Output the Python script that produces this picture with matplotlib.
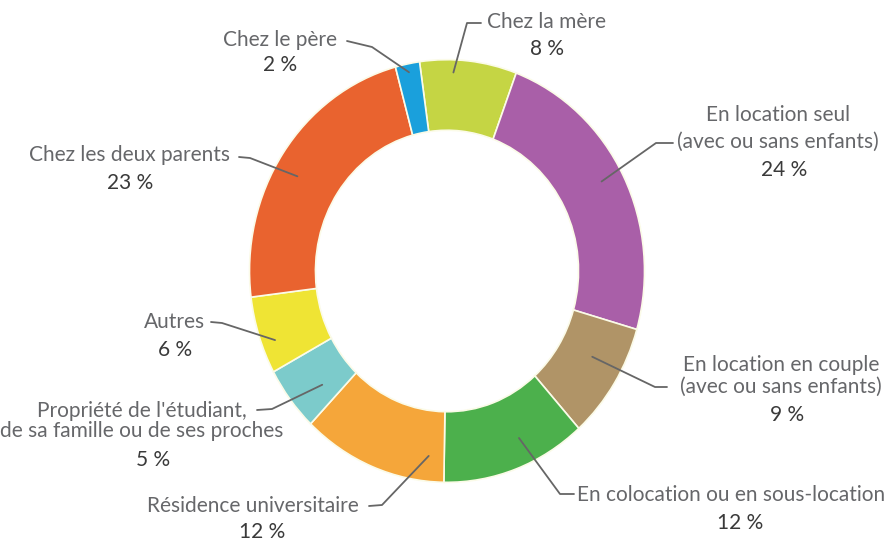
import numpy as np
import matplotlib
matplotlib.use("Agg")
import matplotlib.pyplot as plt

# ---- data (clockwise from top) ----
categories = [
    "Chez la mère",
    "En location seul\n(avec ou sans enfants)",
    "En location en couple\n(avec ou sans enfants)",
    "En colocation ou en sous-location",
    "Résidence universitaire",
    "Propriété de l'étudiant,\nde sa famille ou de ses proches",
    "Autres",
    "Chez les deux parents",
    "Chez le père",
]
values = [8, 24, 9, 12, 12, 5, 6, 23, 2]
pct_labels = ["8 %", "24 %", "9 %", "12 %", "12 %", "5 %", "6 %", "23 %", "2 %"]
colors = ["#c5d544", "#a95fa8", "#b09467", "#4cb04c", "#f5a63a",
          "#7ccbcb", "#efe434", "#e9632f", "#1aa0dc"]

# ---- layout (pixel coordinates, origin top-left) ----
W, H = 887, 541
STRETCH = 1.07          # vertical stretch of the donut
CX, CY = 447, 271        # donut center (pixels)
R = 197.5                # outer radius (x pixels)
RING = 0.334
START = 98
FS = 15

# label name center, pct center, tail points (label side), anchor (frac in wedge, radius frac), line spacing
label_pos = [
    dict(name=(547, 22), pct=(547, 49), tail=[(481, 23), (467, 23)], anc=(0.35, 0.94), ls=1.0),
    dict(name=(778, 128), pct=(784, 170), tail=[(673, 143), (656, 143)], anc=(0.48, 0.89), ls=1.42),
    dict(name=(781, 376), pct=(787, 415), tail=[(667, 387), (655, 387)], anc=(0.40, 0.84), ls=1.1),
    dict(name=(731, 495), pct=(740, 523), tail=[(574, 494), (560, 494)], anc=(0.40, 0.87), ls=1.0),
    dict(name=(253, 506), pct=(262, 532), tail=[(369, 506), (382, 505)], anc=(0.12, 0.88), ls=1.0),
    dict(name=(142, 421), pct=(153, 460), tail=[(257, 410), (272, 409)], anc=(0.33, 0.83), ls=0.95),
    dict(name=(175, 322), pct=(175, 350), tail=[(211, 322), (222, 323)], anc=(0.37, 0.93), ls=1.0),
    dict(name=(130, 155), pct=(130, 183), tail=[(239, 157), (250, 158)], anc=(0.46, 0.88), ls=1.0),
    dict(name=(280, 40), pct=(280, 65), tail=[(347, 41), (372, 47)], anc=(0.50, 0.96), ls=1.0),
]

NAME_COLOR = "#66676a"
PCT_COLOR = "#3a3a3a"
LINE_COLOR = "#666666"
FONT = "Lato"

fig = plt.figure(figsize=(W / 100, H / 100), dpi=100)
ax = fig.add_axes([0, 0, 1, 1])
Hd = H / STRETCH

center = (CX, (H - CY) / STRETCH)
wedges, _ = ax.pie(values, colors=colors, startangle=START, counterclock=False,
                   radius=R, center=center,
                   wedgeprops=dict(width=R * RING, edgecolor="#fbfbe8", linewidth=1.2),
                   frame=True)
ax.set_xlim(0, W)
ax.set_ylim(0, Hd)
ax.set_aspect("auto")
ax.axis("off")


def px(x, y):
    return x, (H - y) / STRETCH


for w, cat, pl, lp in zip(wedges, categories, pct_labels, label_pos):
    t1, t2 = w.theta1, w.theta2
    frac, rf = lp["anc"]
    ang = np.deg2rad(t2 - frac * (t2 - t1))
    ax_, ay_ = center[0] + rf * R * np.cos(ang), center[1] + rf * R * np.sin(ang)
    pts = [px(*p) for p in lp["tail"]] + [(ax_, ay_)]
    xs, ys = zip(*pts)
    ax.plot(xs, ys, color=LINE_COLOR, lw=1.3, solid_capstyle="round", zorder=5)
    nx, ny = px(*lp["name"])
    ax.text(nx, ny, cat, ha="center", va="center", color=NAME_COLOR,
            fontsize=FS, family=FONT, linespacing=lp["ls"], zorder=6)
    qx, qy = px(*lp["pct"])
    ax.text(qx, qy, pl, ha="center", va="center", color=PCT_COLOR,
            fontsize=FS, family=FONT, zorder=6)

fig.savefig("out.png", dpi=100, facecolor="white")
